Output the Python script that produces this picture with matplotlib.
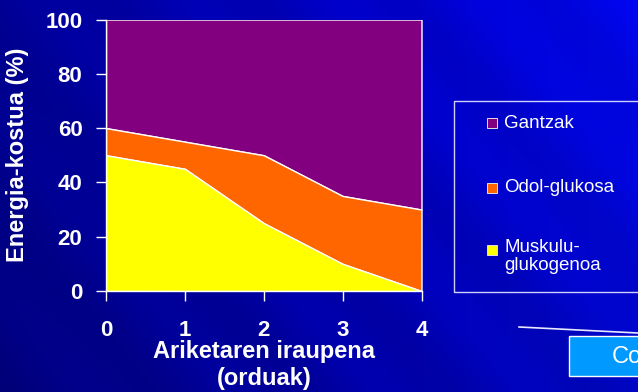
import numpy as np
import matplotlib
matplotlib.use("Agg")
import matplotlib.pyplot as plt
from matplotlib.patches import Rectangle
from matplotlib.lines import Line2D

plt.rcParams['font.family'] = ['Liberation Sans', 'DejaVu Sans']

# Energy cost share by exercise duration (stacked percentages)
hours = [0, 1, 2, 3, 4]
muskulu_glukogenoa = [50, 45, 25, 10, 0]
odol_glukosa = [10, 10, 25, 25, 30]
gantzak = [40, 45, 50, 65, 70]

series_names = ["Gantzak", "Odol-glukosa", "Muskulu-\nglukogenoa"]
series_colors = ["#820080", "#FF6600", "#FFFF00"]

x_ticks = [0, 1, 2, 3, 4]
y_ticks = [0, 20, 40, 60, 80, 100]
x_label = "Ariketaren iraupena\n(orduak)"
y_label = "Energia-kostua (%)"

W, H = 638, 392
fig = plt.figure(figsize=(W / 100, H / 100), dpi=100)

# slide background: blue gradient with faint diagonal streaks
bg = fig.add_axes([0, 0, 1, 1], zorder=-10)
bg.set_axis_off()
yy, xx = np.mgrid[0:1:200j, 0:1:320j]
blue = 150 + 70 * xx - 25 * yy + 15 * xx * (1 - yy)
streak = 8 * np.sin((xx * 3.0 - yy * 1.6) * 9) * np.exp(-((xx - 0.6) ** 2) * 2)
blue = np.clip(blue + streak, 0, 255) / 255
red = np.zeros_like(blue)
green = np.clip((xx - 0.6) * 0.06, 0, 1)
bg.imshow(np.dstack([red, green, blue]), aspect="auto", extent=[0, 1, 0, 1])
bg.set_xlim(0, 1)
bg.set_ylim(0, 1)

ax = fig.add_axes([106 / W, 1 - 291 / H, (421.5 - 106) / W, (291 - 19.5) / H])
ax.patch.set_alpha(0)

m = np.array(muskulu_glukogenoa, dtype=float)
o = m + np.array(odol_glukosa, dtype=float)
g = o + np.array(gantzak, dtype=float)
layers = [(o, g), (m, o), (np.zeros_like(m), m)]
for (lo, hi), c in zip(layers, series_colors):
    ax.fill_between(hours, lo, hi, facecolor=c, edgecolor="white", linewidth=1.0)

ax.set_xlim(hours[0], hours[-1])
ax.set_ylim(0, 100)
ax.set_xticks(x_ticks)
ax.set_yticks(y_ticks)
for s in ["top", "right"]:
    ax.spines[s].set_visible(False)
for s in ["left", "bottom"]:
    ax.spines[s].set_color("white")
    ax.spines[s].set_linewidth(1.0)
ax.tick_params(axis="both", colors="white", direction="out", length=7, width=1,
               labelsize=16)
ax.tick_params(axis="x", pad=14)
ax.tick_params(axis="y", pad=10)
for lab in ax.get_xticklabels() + ax.get_yticklabels():
    lab.set_fontweight("bold")

ax.set_xlabel(x_label, color="white", fontsize=17, fontweight="bold",
              labelpad=-1, linespacing=1.25)
ax.set_ylabel(y_label, color="white", fontsize=17, fontweight="bold", labelpad=12)


def fx(px):
    return px / W


def fy(py):
    return 1 - py / H


# legend box
fig.patches.append(Rectangle((fx(454), fy(292)), fx(640) - fx(454), fy(101) - fy(292),
                             transform=fig.transFigure, facecolor="none",
                             edgecolor="#d0d0ff", linewidth=1.0))
legend_y = [123, 188, 250]
for name, c, py in zip(series_names, series_colors, legend_y):
    fig.patches.append(Rectangle((fx(487), fy(py + 5)), fx(10), 10 / H,
                                 transform=fig.transFigure, facecolor=c,
                                 edgecolor="#e0e0e0", linewidth=0.7))
    if "\n" in name:
        fig.text(fx(504), fy(py - 11), name, color="white", fontsize=13.5,
                 va="top", ha="left", linespacing=1.05)
    else:
        fig.text(fx(504), fy(py), name, color="white", fontsize=13.5,
                 va="center", ha="left")

# caption button at lower right
fig.add_artist(Line2D([fx(519), fx(638)], [fy(327), fy(333)], color="#e8e8ff",
                      linewidth=1.2, transform=fig.transFigure))
fig.patches.append(Rectangle((fx(569), fy(376)), fx(640) - fx(569), fy(336) - fy(376),
                             transform=fig.transFigure, facecolor="#0099FF",
                             edgecolor="white", linewidth=1.0))
fig.text(fx(612), fy(357), "Co", color="white", fontsize=17, va="center", ha="left")

fig.savefig("out.png", dpi=100)
